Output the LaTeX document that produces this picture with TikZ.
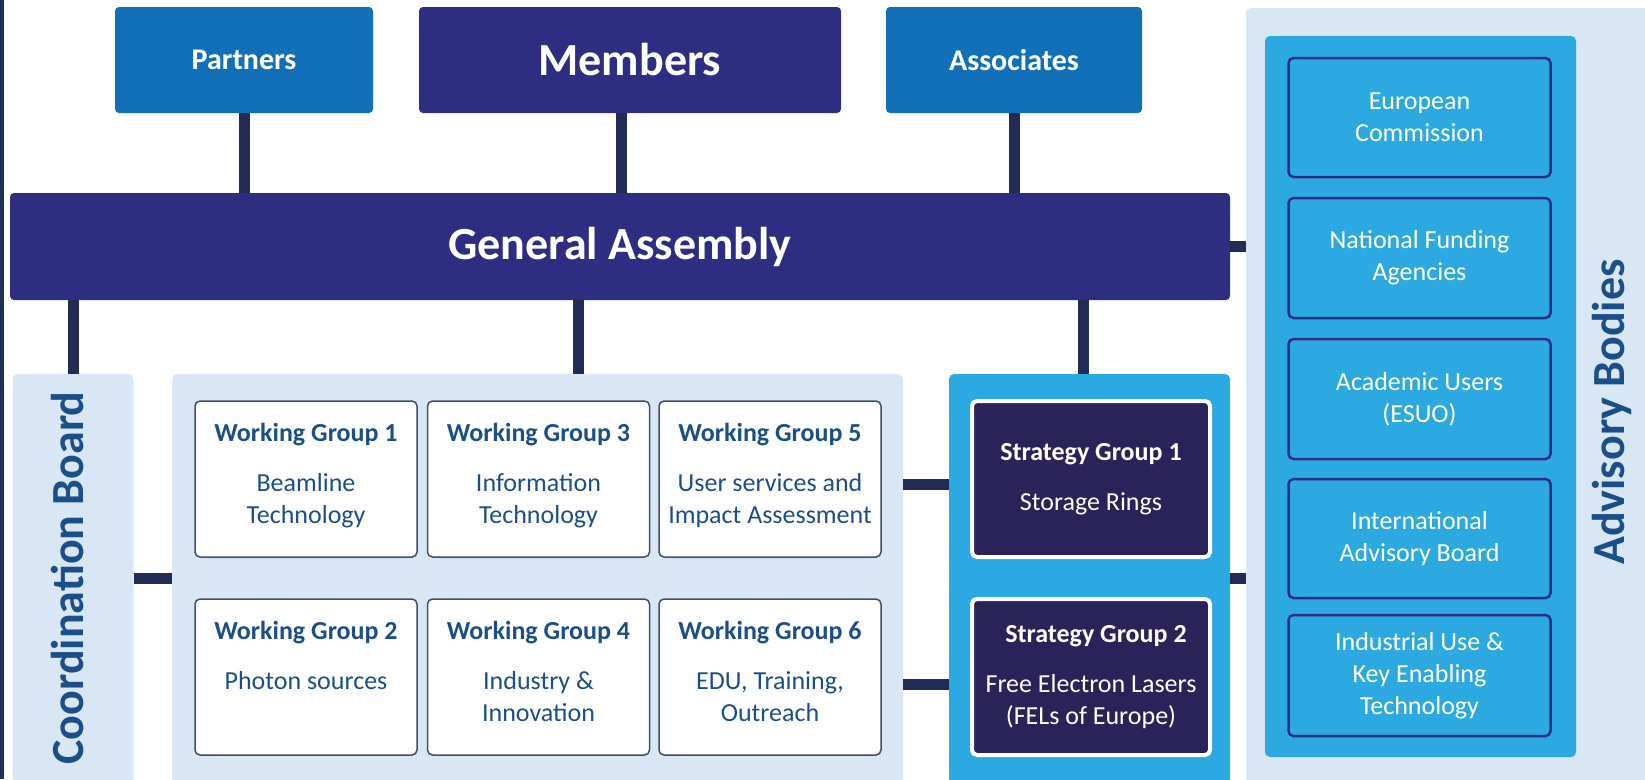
\documentclass[tikz,border=0pt]{standalone}
\usepackage{fontspec}
\setmainfont{Carlito}
\usetikzlibrary{positioning}

\definecolor{memblue}{HTML}{2D2E82}
\definecolor{partblue}{HTML}{1270B8}
\definecolor{linkblue}{HTML}{222B54}
\definecolor{paleblue}{HTML}{D9E6F3}
\definecolor{skyblue}{HTML}{2DA9E1}
\definecolor{deepblue}{HTML}{2A2359}
\definecolor{wgtext}{HTML}{1B4F8A}
\definecolor{wgline}{HTML}{434B73}
\definecolor{stripblue}{HTML}{1E3058}

% title on the first baseline, subtitle lines below
\newcommand{\wglabel}[2]{\begin{tabular}[t]{@{}c@{}}\textbf{#1}\\[18pt]#2\end{tabular}}

\begin{document}
\begin{tikzpicture}[x=1pt, y=-1pt,
        every node/.style={inner sep=0pt, outer sep=0pt},
        % line cap=round,
        conn/.style={draw=linkblue, line width=11pt},
        panel/.style={fill=paleblue, rounded corners=5pt},
        skypanel/.style={fill=skyblue, rounded corners=5pt},
        topbox/.style={fill=partblue, rounded corners=4pt, text=white, minimum height=106pt,
            font=\bfseries\fontsize{30}{36}\selectfont},
        membox/.style={fill=memblue, rounded corners=4pt, text=white,
            font=\bfseries\fontsize{46}{55}\selectfont},
        wgbox/.style={draw=wgline, line width=1.5pt, fill=white, rounded corners=5pt,
            minimum width=222pt, minimum height=156pt},
        wgtitle/.style={text=wgtext, anchor=base, font=\fontsize{26}{32}\selectfont},
        sgbox/.style={draw=white, line width=4pt, fill=deepblue, rounded corners=5pt, text=white,
            minimum width=238pt, minimum height=156pt, align=center,
            font=\fontsize{26}{32}\selectfont},
        advbox/.style={draw=memblue, line width=2.5pt, fill=skyblue, rounded corners=5pt, text=white,
            minimum width=262pt, align=center, font=\fontsize{26}{32}\selectfont},
        sidelabel/.style={text=wgtext, rotate=90, font=\bfseries\fontsize{46}{55}\selectfont},]

        \useasboundingbox (0,0) rectangle (1645,779);
        \clip (0,0) rectangle (1645,779);
        \fill[stripblue] (0,0) rectangle (4,779);

        \coordinate (c_top) at (0,484);
        \coordinate (c_row) at (0,578);
        \coordinate (c_bot) at (0,684);

        % top row
        \node[topbox, minimum width=258pt] (n_part) at (244,60) {Partners};
        \node[membox, minimum width=422pt, minimum height=106pt] (n_mem) at (630,60) {Members};
        \node[topbox, minimum width=256pt] (n_asso) at (1014,60) {Associates};
        \node[membox, minimum width=1220pt, minimum height=107pt] (n_ga) at (620,246.5) {General Assembly};

        % panels
        \node[panel, minimum width=121pt, minimum height=426pt] (n_cb) at (73,587) {};
        \node[panel, minimum width=731pt, minimum height=426pt] (n_wgp) at (537.5,587) {};
        \node[skypanel, minimum width=281pt, minimum height=426pt] (n_sgp) at (1089.5,587) {};
        \node[panel, minimum width=414pt, minimum height=792pt] (n_advp) at (1453,404) {};
        \node[skypanel, minimum width=311pt, minimum height=721pt] (n_advi) at (1420.5,396.5) {};

        \node[sidelabel] (l_cb) at (67,578) {Coordination Board};
        \node[sidelabel] (l_adv) at (1612,412) {Advisory Bodies};

        % working groups
        \node[wgbox] (n_wg1) at (306,479) {};
        \node[wgbox] (n_wg3) at (538.5,479) {};
        \node[wgbox] (n_wg5) at (770,479) {};
        \node[wgbox] (n_wg2) at (306,677) {};
        \node[wgbox] (n_wg4) at (538.5,677) {};
        \node[wgbox] (n_wg6) at (770,677) {};

        \node[wgtitle] (t_wg1) at ([yshift=-40pt]n_wg1.north) {\wglabel{Working Group 1}{Beamline\\Technology}};
        \node[wgtitle] (t_wg3) at ([yshift=-40pt]n_wg3.north) {\wglabel{Working Group 3}{Information\\Technology}};
        \node[wgtitle] (t_wg5) at ([yshift=-40pt]n_wg5.north) {\wglabel{Working Group 5}{User services and\\Impact Assessment}};
        \node[wgtitle] (t_wg2) at ([yshift=-40pt]n_wg2.north) {\wglabel{Working Group 2}{Photon sources}};
        \node[wgtitle] (t_wg4) at ([yshift=-40pt]n_wg4.north) {\wglabel{Working Group 4}{Industry \&\\Innovation}};
        \node[wgtitle] (t_wg6) at ([yshift=-40pt]n_wg6.north) {\wglabel{Working Group 6}{EDU, Training,\\Outreach}};

        % strategy groups
        \node[sgbox] (n_sg1) at (1091,479) {\textbf{Strategy Group 1}\\[18pt]Storage Rings};
        \node[sgbox] (n_sg2) at (1091,677) {\hspace*{10pt}\textbf{Strategy Group 2}\\[18pt]Free Electron Lasers\\(FELs of Europe)};

        % advisory bodies
        \node[advbox, minimum height=119pt] (n_ec) at (1419.5,117.5) {European\\Commission};
        \node[advbox, minimum height=120pt] (n_nfa) at (1419.5,258) {National Funding\\Agencies};
        \node[advbox, minimum height=120pt] (n_au) at (1419.5,399) {Academic Users\\(ESUO)};
        \node[advbox, minimum height=119pt] (n_iab) at (1419.5,538.5) {International\\Advisory Board};
        \node[advbox, minimum height=121pt] (n_iu) at (1419.5,675.5) {Industrial Use \&\\Key Enabling\\Technology};

        % connectors
        \draw[conn] (n_part.south) -- (n_part.south |- n_ga.north);
        \draw[conn] ([xshift=-9pt]n_mem.south) coordinate (c_mem) -- (c_mem |- n_ga.north);
        \draw[conn] (n_asso.south) -- (n_asso.south |- n_ga.north);

        \draw[conn] (n_cb.north) -- (n_cb.north |- n_ga.south);
        \draw[conn] ([xshift=40.5pt]n_wgp.north) coordinate (c_wgp) -- (c_wgp |- n_ga.south);
        \draw[conn] ([xshift=-6.5pt]n_sgp.north) coordinate (c_sgp) -- (c_sgp |- n_ga.south);
        \draw[conn] (n_ga.east) -- (n_ga.east -| n_advp.west);

        \draw[conn] (n_cb.east |- c_row) -- (n_wgp.west |- c_row);
        \draw[conn] (n_wgp.east |- c_top) -- (n_sgp.west |- c_top);
        \draw[conn] (n_wgp.east |- c_bot) -- (n_sgp.west |- c_bot);
        \draw[conn] (n_sgp.east |- c_row) -- (n_advp.west |- c_row);

    \end{tikzpicture}
\end{document}
